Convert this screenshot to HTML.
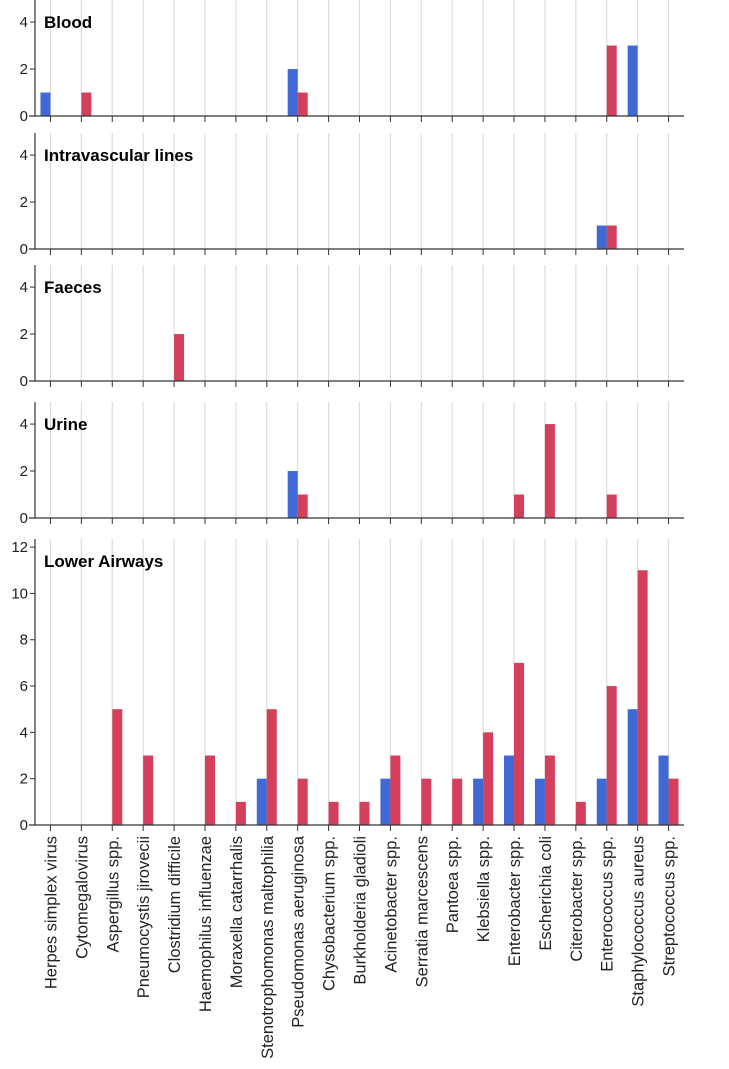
<!DOCTYPE html>
<html><head><meta charset="utf-8"><style>
body{margin:0;background:#fff;}
svg{display:block;font-family:"Liberation Sans",Arial,sans-serif;}
</style></head><body>
<svg id="chart" width="729" height="1069"></svg>
<script>
const categories=["Herpes simplex virus","Cytomegalovirus","Aspergillus spp.","Pneumocystis jirovecii","Clostridium difficile","Haemophilus influenzae","Moraxella catarrhalis","Stenotrophomonas maltophilia","Pseudomonas aeruginosa","Chysobacterium spp.","Burkholderia gladioli","Acinetobacter spp.","Serratia marcescens","Pantoea spp.","Klebsiella spp.","Enterobacter spp.","Escherichia coli","Citerobacter spp.","Enterococcus spp.","Staphylococcus aureus","Streptococcus spp."];
const panelNames=["Blood","Intravascular lines","Faeces","Urine","Lower Airways"];
const bloodBlue=[1,0,0,0,0,0,0,0,2,0,0,0,0,0,0,0,0,0,0,3,0];
const bloodRed=[0,1,0,0,0,0,0,0,1,0,0,0,0,0,0,0,0,0,3,0,0];
const linesBlue=[0,0,0,0,0,0,0,0,0,0,0,0,0,0,0,0,0,0,1,0,0];
const linesRed=[0,0,0,0,0,0,0,0,0,0,0,0,0,0,0,0,0,0,1,0,0];
const faecesBlue=[0,0,0,0,0,0,0,0,0,0,0,0,0,0,0,0,0,0,0,0,0];
const faecesRed=[0,0,0,0,2,0,0,0,0,0,0,0,0,0,0,0,0,0,0,0,0];
const urineBlue=[0,0,0,0,0,0,0,0,2,0,0,0,0,0,0,0,0,0,0,0,0];
const urineRed=[0,0,0,0,0,0,0,0,1,0,0,0,0,0,0,1,4,0,1,0,0];
const airwaysBlue=[0,0,0,0,0,0,0,2,0,0,0,2,0,0,2,3,2,0,2,5,3];
const airwaysRed=[0,0,5,3,0,3,1,5,2,1,1,3,2,2,4,7,3,1,6,11,2];
const smallTicks=[0,2,4];
const largeTicks=[0,2,4,6,8,10,12];

const blueVals=[bloodBlue,linesBlue,faecesBlue,urineBlue,airwaysBlue];
const redVals=[bloodRed,linesRed,faecesRed,urineRed,airwaysRed];
const panelTop=[0,133,265,402,539];
const panelBase=[116,249,381,518,825];
const panelMax=[4.94,4.94,4.94,4.94,12.35];
const panelTicks=[smallTicks,smallTicks,smallTicks,smallTicks,largeTicks];
const X0=35,X1=684;
const bw=(X1-X0)/categories.length;
const xc=i=>X0+bw*(i+0.5);
const NS="http://www.w3.org/2000/svg";
const svg=document.getElementById('chart');
function mk(tag,attrs,parent){const e=document.createElementNS(NS,tag);for(const k in attrs)e.setAttribute(k,attrs[k]);(parent||svg).appendChild(e);return e;}
panelNames.forEach((name,p)=>{
  const g=mk('g',{});
  
  
  const top=panelTop[p],base=panelBase[p],mx=panelMax[p];
  const y=v=>base-(v/mx)*(base-top);
  categories.forEach((c,i)=>{
    const l=mk('line',{x1:xc(i),x2:xc(i),y1:top,y2:base,stroke:'#dcdcdc','stroke-width':1.2},g);
    
    
  });
  categories.forEach((c,i)=>{
    const b=blueVals[p][i],r=redVals[p][i];
    if(b>0){const rc=mk('rect',{x:xc(i)-10,y:y(b),width:10,height:base-y(b),fill:'#4169d6'},g);
      
      }
    if(r>0){const rc=mk('rect',{x:xc(i),y:y(r),width:10,height:base-y(r),fill:'#d4405b'},g);
      
      }
  });
  const ya=mk('line',{x1:X0,x2:X0,y1:top,y2:base,stroke:'#333','stroke-width':1.2},g);
  
  
  const xa=mk('line',{x1:X0-6,x2:X1,y1:base,y2:base,stroke:'#333','stroke-width':1.2},g);
  
  
  panelTicks[p].forEach(t=>{
    mk('line',{x1:X0-5,x2:X0,y1:y(t),y2:y(t),stroke:'#333'},g);
    const tx=mk('text',{x:X0-7,y:y(t)+5,'text-anchor':'end','font-size':15,fill:'#222'},g);
    tx.textContent=t;
    
    
  });
  categories.forEach((c,i)=>{
    mk('line',{x1:xc(i),x2:xc(i),y1:base,y2:base+6,stroke:'#333'},g);
  });
  const tt=mk('text',{x:44,y:top+28,'font-size':17,'font-weight':'bold',fill:'#000'},g);
  tt.textContent=name;
  
  
});
categories.forEach((c,i)=>{
  const x=xc(i)+6,yy=836;
  const t=mk('text',{x:x,y:yy,'text-anchor':'end','font-size':16.5,fill:'#222',transform:`rotate(-90 ${x} ${yy})`});
  t.textContent=c;
  
  
});
</script>
</body></html>
